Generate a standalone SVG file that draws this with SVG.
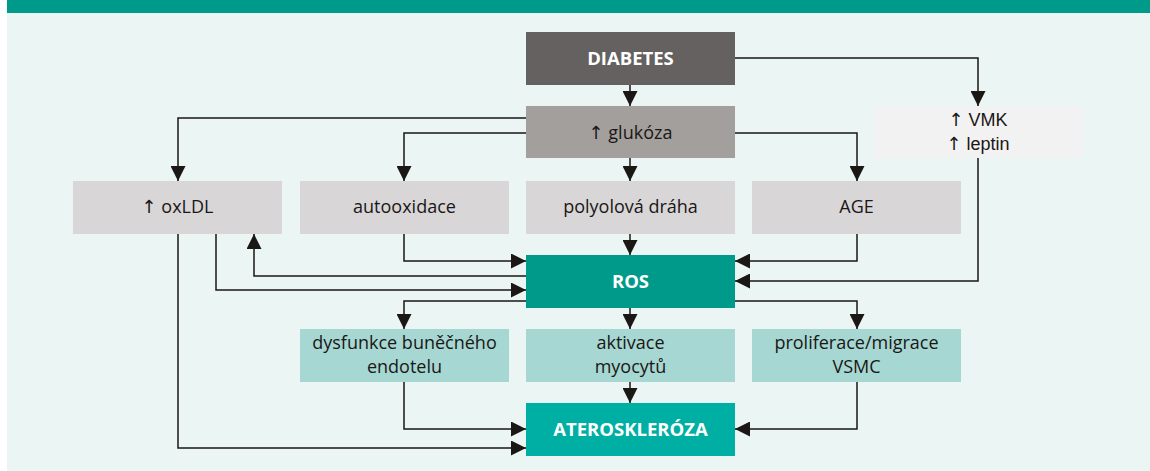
<svg xmlns="http://www.w3.org/2000/svg" width="1150" height="471" viewBox="0 0 1150 471">
<style>
.t{font-family:"Open Sans","Noto Sans",sans-serif;font-size:18px;fill:#1a1715;text-anchor:middle}
.b{font-family:"Open Sans","Noto Sans",sans-serif;font-size:18.5px;font-weight:bold;fill:#ffffff;text-anchor:middle}
.a{font-family:"Liberation Sans",Arial,sans-serif;font-size:18px;fill:#1a1715;text-anchor:middle}
.u{font-family:"DejaVu Sans",sans-serif;font-weight:normal}
.c path{fill:none;stroke:#1a1715;stroke-width:1.5}
.g2{fill:#d8d6d7}
.g4{fill:#a6d7d2}
</style>
<defs>
<marker id="ah" viewBox="0 0 15 15" refX="15" refY="7.5" markerWidth="15" markerHeight="15" markerUnits="userSpaceOnUse" orient="auto">
<path d="M0,0 L15,7.5 L0,15 z" fill="#1a1715"/>
</marker>
</defs>
<rect x="0" y="0" width="1150" height="471" fill="#ffffff"/>
<rect x="7" y="13" width="1143" height="458" fill="#ebf5f3"/>
<rect x="7" y="0" width="1143" height="13" fill="#009a8a"/>

<g class="c" marker-end="url(#ah)">
<path d="M630,85 V106"/>
<path d="M735,58 H978 V106"/>
<path d="M526,118 H178 V181"/>
<path d="M526,133 H404 V181"/>
<path d="M630,158 V181"/>
<path d="M735,133 H857 V181"/>
<path d="M404,234 V261 H526"/>
<path d="M630,234 V255"/>
<path d="M857,234 V261 H735"/>
<path d="M978,158 V281 H735"/>
<path d="M526,276 H254 V234"/>
<path d="M216,234 V290 H526"/>
<path d="M526,301 H404 V329"/>
<path d="M630,308 V329"/>
<path d="M735,301 H857 V329"/>
<path d="M404,382 V429 H526"/>
<path d="M630,382 V403"/>
<path d="M857,382 V429 H735"/>
<path d="M178,234 V448 H526"/>
</g>

<g id="diabetes"><rect x="526" y="32" width="209" height="53" fill="#656160"/><text class="b" x="630.5" y="64.5">DIABETES</text></g>
<g id="glukoza"><rect x="526" y="106" width="209" height="52" fill="#a39f9c"/><text class="t" x="630.5" y="138.5"><tspan class="u">↑</tspan> glukóza</text></g>
<g id="vmk"><rect x="874" y="106" width="209" height="52" fill="#f2f2f2"/><text class="a" x="978" y="126"><tspan class="u">↑</tspan> VMK</text><text class="a" x="978" y="150"><tspan class="u">↑</tspan> leptin</text></g>
<g id="oxldl"><rect class="g2" x="73" y="181" width="209" height="53"/><text class="t" x="177.5" y="213"><tspan class="u">↑</tspan> oxLDL</text></g>
<g id="autooxidace"><rect class="g2" x="300" y="181" width="209" height="53"/><text class="t" x="404.5" y="213">autooxidace</text></g>
<g id="polyolova"><rect class="g2" x="526" y="181" width="209" height="53"/><text class="t" x="630.5" y="213">polyolová dráha</text></g>
<g id="age"><rect class="g2" x="752" y="181" width="209" height="53"/><text class="t" x="856.5" y="213">AGE</text></g>
<g id="ros"><rect x="526" y="255" width="209" height="53" fill="#009a8a"/><text class="b" x="630.5" y="287.5">ROS</text></g>
<g id="dysfunkce"><rect class="g4" x="300" y="329" width="209" height="53"/><text class="t" x="404.5" y="349">dysfunkce buněčného</text><text class="t" x="404.5" y="373">endotelu</text></g>
<g id="aktivace"><rect class="g4" x="526" y="329" width="209" height="53"/><text class="t" x="630.5" y="349">aktivace</text><text class="t" x="630.5" y="373">myocytů</text></g>
<g id="proliferace"><rect class="g4" x="752" y="329" width="209" height="53"/><text class="t" x="856.5" y="349">proliferace/migrace</text><text class="t" x="856.5" y="373">VSMC</text></g>
<g id="ateroskleroza"><rect x="526" y="403" width="209" height="53" fill="#00afa4"/><text class="b" x="630.5" y="435.5">ATEROSKLERÓZA</text></g>
</svg>
